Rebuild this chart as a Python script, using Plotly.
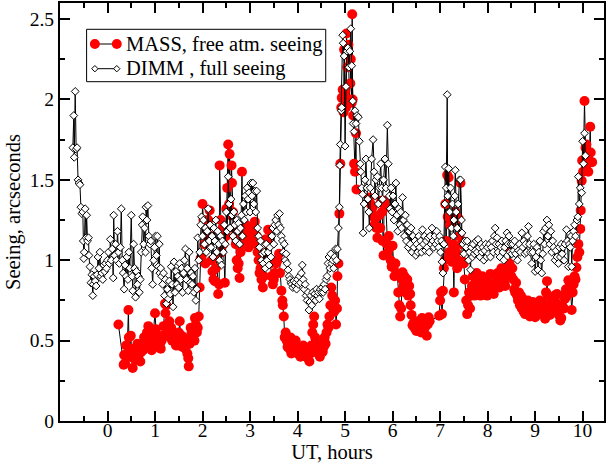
import plotly.graph_objects as go

# ---------------- DIMM (full seeing) ----------------
dimm_ut = [
    -0.73, -0.71, -0.70, -0.68, -0.66, -0.64, -0.62, -0.60, -0.58, -0.56,
    -0.54, -0.52, -0.51, -0.50, -0.49, -0.47, -0.45, -0.44, -0.42, -0.40,
    -0.39, -0.37, -0.35, -0.33, -0.31, -0.30, -0.28, -0.26, -0.24, -0.22,
    -0.20, -0.18, -0.16, -0.14, -0.12, -0.10, -0.08, -0.06, -0.04, -0.02,
    0.00, 0.02, 0.04, 0.06, 0.08, 0.10, 0.12, 0.13, 0.15, 0.17,
    0.19, 0.21, 0.23, 0.25, 0.27, 0.29, 0.31, 0.33, 0.35, 0.37,
    0.39, 0.41, 0.43, 0.45, 0.47, 0.50, 0.52, 0.53, 0.55, 0.57,
    0.59, 0.61, 0.63, 0.65, 0.67, 0.69, 0.71, 0.73, 0.74, 0.76,
    0.78, 0.80, 0.81, 0.83, 0.85, 0.87, 0.89, 0.91, 0.93, 0.95,
    0.97, 0.99, 1.01,
    1.03, 1.05, 1.07, 1.09, 1.10, 1.12, 1.14, 1.16, 1.18, 1.20,
    1.22, 1.24, 1.26, 1.28, 1.30, 1.32, 1.34, 1.36, 1.38, 1.40,
    1.42, 1.44, 1.46, 1.48, 1.50, 1.52, 1.54, 1.56, 1.58, 1.60,
    1.62, 1.64, 1.66, 1.68, 1.70, 1.72, 1.74, 1.76, 1.78, 1.80,
    1.82, 1.84, 1.86, 1.88, 1.90, 1.92, 1.94, 1.96, 1.98,
    2.00, 2.02, 2.04, 2.06, 2.08, 2.10, 2.12, 2.14, 2.16, 2.18,
    2.20, 2.22, 2.24, 2.26, 2.28, 2.30, 2.32, 2.34, 2.36, 2.38,
    2.40, 2.42, 2.44, 2.46, 2.48, 2.50, 2.52, 2.54, 2.56, 2.58,
    2.60, 2.62, 2.64, 2.66, 2.68, 2.70, 2.72, 2.74, 2.76, 2.78,
    2.80, 2.82, 2.84, 2.86, 2.88, 2.90, 2.92, 2.94, 2.96, 2.98,
    3.00, 3.02, 3.04, 3.06, 3.08, 3.10,
    3.12, 3.14, 3.16, 3.18, 3.20, 3.22, 3.24, 3.26, 3.28, 3.30,
    3.32, 3.34, 3.36, 3.38, 3.40, 3.42, 3.44, 3.46, 3.48, 3.50,
    3.52, 3.54, 3.56, 3.58, 3.60, 3.62, 3.64, 3.66, 3.68, 3.70,
    3.72, 3.74, 3.76, 3.78, 3.80, 3.82, 3.84, 3.86, 3.88, 3.90,
    3.92, 3.94, 3.96, 3.98, 4.00, 4.02, 4.04, 4.06, 4.08, 4.10,
    4.12, 4.14, 4.16, 4.18, 4.20, 4.22, 4.24, 4.26, 4.28, 4.30,
    4.32, 4.34, 4.36, 4.38, 4.40, 4.42, 4.44, 4.46, 4.48, 4.50,
    4.52, 4.54, 4.56, 4.58, 4.60, 4.62, 4.64, 4.66, 4.68, 4.70,
    4.72, 4.74, 4.76, 4.78, 4.80, 4.82, 4.84, 4.86,
    4.88, 4.89, 4.90, 4.92, 4.93, 4.95, 4.96, 4.98, 5.00, 5.02,
    5.04, 5.06, 5.08, 5.10, 5.12, 5.14, 5.16, 5.17, 5.19, 5.21,
    5.23, 5.25, 5.28, 5.30, 5.32, 5.33, 5.35, 5.37, 5.38, 5.40,
    5.42, 5.44, 5.46, 5.48, 5.50, 5.51, 5.53, 5.56, 5.59, 5.61,
    5.63, 5.65, 5.68, 5.70, 5.72, 5.75, 5.77, 5.79, 5.81, 5.84,
    5.86, 5.89, 5.91, 5.93, 5.95, 5.97, 5.99, 6.01, 6.03, 6.05,
    6.07, 6.09, 6.11, 6.13, 6.15, 6.17, 6.19, 6.21, 6.23, 6.25,
    6.27, 6.29, 6.31, 6.33, 6.35, 6.37, 6.39, 6.41,
    6.43, 6.45, 6.47, 6.49, 6.51, 6.53, 6.55, 6.57, 6.59, 6.61,
    6.63, 6.65, 6.67, 6.69, 6.71, 6.73, 6.75, 6.77, 6.79, 6.81,
    6.83, 6.85, 6.87, 6.89, 6.91, 6.93, 6.95, 6.97, 6.99, 7.01,
    7.03, 7.04, 7.06, 7.08,
    7.10, 7.11, 7.13, 7.15, 7.16, 7.18, 7.20, 7.22, 7.24, 7.26,
    7.28, 7.29, 7.31, 7.32, 7.34, 7.36, 7.38, 7.41, 7.43, 7.45,
    7.46, 7.48, 7.50, 7.52, 7.55, 7.57, 7.60, 7.62, 7.64, 7.66,
    7.68, 7.70, 7.72, 7.74, 7.76, 7.78, 7.80, 7.82, 7.84, 7.86,
    7.88, 7.90, 7.92, 7.94, 7.96, 7.98,
    8.00, 8.02, 8.04, 8.06, 8.08, 8.10, 8.12, 8.14, 8.16, 8.18,
    8.20, 8.22, 8.24, 8.26, 8.28, 8.30, 8.32, 8.34, 8.36, 8.38,
    8.41, 8.43, 8.45, 8.47, 8.49, 8.51, 8.53, 8.55, 8.57, 8.59,
    8.61, 8.63, 8.65, 8.67, 8.69, 8.72, 8.74, 8.76, 8.78, 8.80,
    8.82, 8.84, 8.86, 8.88, 8.90, 8.93, 8.95, 8.97,
    9.00, 9.02, 9.04, 9.06, 9.08, 9.10, 9.12, 9.14, 9.16, 9.18,
    9.20, 9.22, 9.25, 9.27, 9.29, 9.31, 9.33, 9.35, 9.37, 9.39,
    9.42, 9.44, 9.46, 9.49, 9.51, 9.53, 9.55, 9.57, 9.59, 9.61,
    9.63, 9.66, 9.68, 9.70, 9.72, 9.74, 9.76, 9.77, 9.79, 9.81,
    9.83, 9.85, 9.88, 9.90, 9.91, 9.93, 9.95, 9.98, 10.00, 10.02,
    10.04, 10.06,
]
dimm_seeing = [
    1.70, 1.90, 1.64, 2.05, 1.69, 1.70, 1.50, 1.48, 1.47, 1.33,
    1.29, 1.30, 1.12, 1.01, 1.05, 1.32, 1.14, 1.28, 1.12, 1.14,
    1.03, 0.96, 0.86, 0.91, 0.78, 0.85, 0.90, 0.87, 0.84, 0.91,
    1.02, 0.95, 1.05, 0.90, 0.92, 0.88, 0.97, 0.93, 0.98, 0.95,
    1.00, 1.05, 0.98, 1.13, 1.00, 1.07, 0.89, 1.28, 1.03, 1.10,
    1.00, 1.18, 1.05, 0.98, 1.08, 1.32, 1.00, 0.92, 0.82, 0.97,
    0.90, 1.02, 0.88, 1.05, 0.95, 1.28, 0.90, 0.81, 1.10, 0.95,
    0.77, 0.93, 0.85, 0.90, 0.80, 0.88, 1.05, 1.22, 1.27, 1.10,
    1.20, 1.05, 1.33, 1.25, 1.34, 1.15, 1.10, 1.12, 0.95, 0.85,
    1.00, 1.08, 1.15,
    1.03, 1.15, 0.96, 1.10, 0.92, 0.95, 0.90, 0.85, 0.92, 0.78,
    0.88, 0.73, 0.82, 0.76, 0.87, 0.79, 0.96, 0.85, 0.71, 0.99,
    0.80, 0.93, 0.85, 0.90, 0.83, 0.98, 0.88, 0.95, 0.80, 0.92,
    1.00, 1.07, 0.88, 0.95, 0.81, 1.05, 0.86, 0.92, 0.85, 0.90,
    0.80, 0.95, 0.75, 0.82, 1.14, 1.00, 1.05, 1.22, 1.27,
    1.15, 1.25, 1.10, 1.20, 1.05, 1.18, 1.32, 1.12, 1.22, 1.08,
    1.15, 1.02, 1.20, 1.12, 1.25, 1.05, 1.18, 1.10, 1.00, 1.15,
    0.97, 1.12, 1.05, 1.22, 1.10, 1.30, 1.18, 1.52, 1.35, 1.20,
    1.38, 1.28, 1.15, 1.30, 1.22, 1.12, 1.25, 1.18, 1.23, 1.10,
    1.20, 1.28, 1.15, 1.35, 1.25, 1.40, 1.30, 1.45, 1.38, 1.42,
    1.30, 1.48, 1.40, 1.48, 1.35, 1.43,
    1.30, 1.43, 1.20, 1.15, 1.08, 1.12, 1.00, 1.04, 0.98, 1.05,
    0.95, 1.10, 1.00, 1.05, 0.97, 1.08, 1.02, 1.15, 1.20, 1.10,
    1.22, 1.25, 1.18, 1.28, 1.22, 1.29, 1.20, 1.15, 1.12, 1.05,
    1.10, 1.00, 1.04, 0.98, 0.94, 0.90, 0.88, 0.86, 0.85, 0.83,
    0.87, 0.84, 0.86, 0.82, 0.88, 0.85, 0.90, 0.86, 0.92, 0.97,
    0.88, 0.82, 0.85, 0.78, 0.75, 0.80, 0.69, 0.74, 0.78, 0.72,
    0.80, 0.76, 0.79, 0.75, 0.82, 0.78, 0.80, 0.76, 0.82, 0.80,
    0.83, 0.80, 0.85, 0.82, 0.88, 0.90, 0.98, 1.02, 0.95, 1.04,
    0.98, 1.00, 0.95, 1.02, 1.07, 1.00, 1.07, 1.20,
    1.33, 1.59, 1.72, 1.93, 1.95, 2.40, 2.35, 2.27, 1.71, 2.08,
    2.30, 2.32, 2.20, 2.30, 2.44, 2.21, 1.99, 1.85, 1.80, 1.93,
    1.85, 1.90, 1.89, 1.74, 1.60, 1.55, 1.45, 1.41, 1.17, 1.35,
    1.50, 1.63, 1.45, 1.38, 1.30, 1.20, 1.45, 1.63, 1.75, 1.55,
    1.40, 1.50, 1.52, 1.35, 1.45, 1.60, 1.45, 1.38, 1.50, 1.63,
    1.45, 1.84, 1.60, 1.40, 1.32, 1.45, 1.30, 1.40, 1.25, 1.35,
    1.48, 1.28, 1.18, 1.32, 1.22, 1.30, 1.20, 1.39, 1.25, 1.15,
    1.28, 1.12, 1.22, 1.08, 1.18, 1.10, 1.20, 1.05,
    1.15, 1.08, 1.12, 1.03, 1.10, 1.05, 1.15, 1.08, 1.12, 1.05,
    1.19, 1.10, 1.15, 1.06, 1.12, 1.08, 1.14, 1.05, 1.15, 1.10,
    1.20, 1.12, 1.08, 1.15, 1.10, 1.18, 1.12, 1.08, 1.15, 1.05,
    1.12, 0.99, 0.92, 1.10,
    1.35, 1.58, 1.45, 2.03, 1.40, 1.57, 1.30, 1.45, 1.20, 1.35,
    1.15, 1.25, 1.40, 1.56, 1.30, 1.20, 1.35, 1.50, 1.50, 1.25,
    1.17, 1.10, 1.04, 1.12, 1.08, 1.12, 1.00, 1.05, 0.94, 1.08,
    1.02, 1.10, 1.04, 1.06, 1.12, 1.05, 1.13, 1.08, 1.02, 1.10,
    1.05, 1.08, 1.00, 1.06, 1.10, 1.02,
    1.08, 1.04, 1.10, 1.02, 1.08, 1.12, 1.05, 1.15, 1.20, 1.10,
    1.14, 1.05, 1.10, 1.02, 1.08, 1.12, 1.05, 1.00, 1.08, 1.12,
    1.17, 1.10, 1.15, 1.05, 1.10, 1.04, 1.10, 1.06, 1.12, 1.04,
    1.08, 1.00, 1.06, 1.10, 1.05, 1.17, 1.08, 1.12, 1.04, 1.10,
    1.05, 1.15, 1.21, 1.10, 1.05, 0.98, 1.05, 1.10,
    0.93, 1.02, 1.08, 0.94, 1.05, 1.12, 1.00, 0.92, 1.04, 1.18,
    1.10, 1.20, 1.25, 1.15, 1.22, 1.10, 1.18, 1.05, 1.12, 1.08,
    1.00, 1.06, 1.02, 0.98, 1.08, 1.02, 1.10, 1.04, 1.08, 1.00,
    1.10, 1.19, 1.12, 0.96, 1.10, 1.08, 1.15, 0.96, 1.12, 1.18,
    1.22, 1.15, 1.25, 1.27, 1.52, 1.35, 1.45, 1.42, 1.74, 1.60,
    1.79, 1.65,
]

# ---------------- MASS (free atmosphere seeing) ----------------
mass_ut = [
    0.23, 0.34, 0.35, 0.37, 0.39, 0.41, 0.44, 0.45, 0.47, 0.49,
    0.51, 0.53, 0.55, 0.57, 0.59, 0.61, 0.63, 0.65, 0.67, 0.69,
    0.71, 0.73, 0.75, 0.77, 0.79, 0.81, 0.83, 0.84, 0.86, 0.88,
    0.90, 0.93, 0.95, 0.97, 1.00,
    1.02, 1.04, 1.06, 1.08, 1.10, 1.12, 1.14, 1.16, 1.18, 1.21,
    1.22, 1.24, 1.26, 1.28, 1.30, 1.32, 1.34, 1.36, 1.38, 1.40,
    1.44, 1.46, 1.48, 1.50, 1.52, 1.54, 1.56, 1.58, 1.60, 1.62,
    1.64, 1.66, 1.68, 1.70, 1.71, 1.73, 1.75, 1.77, 1.79, 1.81,
    1.83, 1.84, 1.86, 1.88, 1.90, 1.92, 1.94, 1.96, 1.98,
    2.00, 2.02, 2.04, 2.06, 2.08, 2.10, 2.12, 2.15, 2.17, 2.19,
    2.21, 2.23, 2.26, 2.28, 2.30, 2.33, 2.35, 2.36, 2.38, 2.40,
    2.42, 2.44, 2.47, 2.49, 2.50, 2.52, 2.54, 2.56, 2.57, 2.59,
    2.61, 2.62, 2.64, 2.66, 2.68, 2.70, 2.72, 2.74, 2.76, 2.78,
    2.80, 2.83, 2.85, 2.87, 2.89, 2.91, 2.93, 2.95, 2.97, 2.99,
    3.01, 3.03, 3.05, 3.07, 3.10,
    3.12, 3.14, 3.16, 3.18, 3.20, 3.22, 3.24, 3.27, 3.29, 3.31,
    3.33, 3.35, 3.38, 3.40, 3.43, 3.45, 3.48, 3.50, 3.52, 3.55,
    3.58, 3.61, 3.63, 3.66, 3.68, 3.69, 3.71, 3.73, 3.75, 3.77,
    3.79, 3.81, 3.83, 3.85, 3.87, 3.89, 3.91, 3.93, 3.96, 3.98,
    4.00, 4.02, 4.04, 4.06, 4.08, 4.10, 4.12, 4.14, 4.16, 4.18,
    4.20, 4.22, 4.25, 4.27, 4.29, 4.31, 4.33, 4.35, 4.37, 4.39,
    4.41, 4.43, 4.45, 4.47, 4.49, 4.51, 4.53, 4.55, 4.57, 4.59,
    4.61, 4.63, 4.65, 4.67, 4.69, 4.71, 4.73, 4.75, 4.77, 4.79,
    4.81, 4.83, 4.84, 4.86, 4.88,
    4.90, 4.92, 4.93, 4.95, 4.97, 4.98, 5.00, 5.02, 5.03, 5.05,
    5.07, 5.09, 5.11, 5.12, 5.14, 5.15, 5.16, 5.17, 5.19, 5.21,
    5.23, 5.24,
    5.51, 5.54, 5.56, 5.58, 5.60, 5.62, 5.64, 5.66, 5.68, 5.70,
    5.72, 5.74, 5.76, 5.78, 5.79, 5.81, 5.82, 5.84, 5.86, 5.88,
    5.90, 5.92, 5.94, 5.96, 5.98, 6.00, 6.02, 6.04, 6.06, 6.08,
    6.10, 6.12, 6.14, 6.16, 6.18, 6.20, 6.21, 6.23, 6.25, 6.27,
    6.29, 6.31, 6.33, 6.35, 6.37, 6.38, 6.40, 6.42, 6.44, 6.46,
    6.48, 6.50, 6.52, 6.54, 6.56, 6.58, 6.60, 6.62, 6.64, 6.66,
    6.68, 6.70, 6.72, 6.74, 6.76, 6.78,
    6.98, 7.00, 7.02, 7.04, 7.06, 7.08, 7.10, 7.11, 7.13, 7.15,
    7.16, 7.18, 7.19, 7.21, 7.23, 7.25, 7.27, 7.29, 7.30, 7.32,
    7.34, 7.36, 7.38, 7.39, 7.41, 7.43, 7.45, 7.48,
    7.50, 7.52, 7.55, 7.57, 7.59, 7.61, 7.63, 7.65, 7.67, 7.69,
    7.71, 7.73, 7.75, 7.77, 7.79, 7.81, 7.83, 7.85, 7.87, 7.89,
    7.91, 7.93, 7.95, 7.97, 7.99, 8.01, 8.03, 8.06, 8.08, 8.10,
    8.13, 8.15, 8.17, 8.19, 8.21, 8.23, 8.25, 8.27, 8.29, 8.31,
    8.33, 8.35, 8.37, 8.39, 8.41, 8.44, 8.46, 8.48,
    8.50, 8.52, 8.54, 8.56, 8.58, 8.60, 8.62, 8.64, 8.66, 8.68,
    8.70, 8.72, 8.74, 8.76, 8.79, 8.81, 8.83, 8.85, 8.87, 8.89,
    8.91, 8.93, 8.95, 8.97, 9.00, 9.02, 9.04, 9.06, 9.08, 9.10,
    9.12, 9.14, 9.16, 9.18, 9.21, 9.23, 9.25, 9.27, 9.29, 9.31,
    9.33, 9.35, 9.37, 9.39, 9.41, 9.43, 9.46, 9.48,
    9.50, 9.53, 9.55, 9.57, 9.59, 9.61, 9.63, 9.65, 9.67, 9.70,
    9.72, 9.74, 9.77, 9.79, 9.81, 9.83, 9.85, 9.87, 9.89, 9.91,
    9.93, 9.95, 9.96, 9.98, 9.99, 10.01, 10.04, 10.06, 10.08, 10.10,
    10.12, 10.14, 10.16, 10.17, 10.20,
]
mass_seeing = [
    0.60, 0.35, 0.41, 0.36, 0.47, 0.40, 0.69, 0.52, 0.45, 0.53,
    0.42, 0.33, 0.39, 0.45, 0.38, 0.43, 0.48, 0.40, 0.46, 0.37,
    0.43, 0.47, 0.44, 0.52, 0.48, 0.50, 0.55, 0.48, 0.59, 0.54,
    0.47, 0.44, 0.50, 0.55, 0.67,
    0.57, 0.50, 0.46, 0.52, 0.48, 0.45, 0.50, 0.53, 0.59, 0.73,
    0.67, 0.72, 0.60, 0.55, 0.62, 0.52, 0.58, 0.50, 0.55, 0.53,
    0.47, 0.50, 0.47, 0.55, 0.62, 0.50, 0.53, 0.46, 0.52, 0.48,
    0.45, 0.50, 0.42, 0.39, 0.34, 0.48, 0.58, 0.55, 0.52, 0.57,
    0.50, 0.64, 0.60, 0.55, 0.58, 0.65, 0.83, 1.01, 1.02,
    1.35, 1.25, 1.10, 0.98, 1.20, 1.15, 1.25, 1.31, 1.15, 1.00,
    0.93, 0.88, 0.87, 0.95, 1.02, 0.79, 0.85, 1.59, 1.25, 1.05,
    1.20, 1.10, 0.86, 1.15, 1.32, 1.45, 1.72, 1.35, 1.66, 1.28,
    1.59, 1.48, 1.30, 1.20, 1.15, 1.10, 1.00, 0.95, 0.98, 0.89,
    1.05, 1.55, 1.20, 1.15, 1.10, 1.22, 1.18, 1.12, 1.08, 1.15,
    1.20, 1.18, 1.12, 1.20, 1.24,
    1.10, 1.15, 1.05, 1.00, 0.92, 0.95, 0.88, 0.83, 0.90, 1.00,
    1.13, 1.05, 1.19, 1.10, 0.98, 0.90, 0.85, 0.88, 0.92, 0.98,
    1.00, 1.04, 0.92, 0.81, 0.75, 0.72, 0.65, 0.52, 0.55, 0.50,
    0.46, 0.48, 0.45, 0.52, 0.42, 0.44, 0.48, 0.43, 0.50, 0.46,
    0.42, 0.46, 0.44, 0.40, 0.45, 0.42, 0.47, 0.41, 0.44, 0.40,
    0.43, 0.39, 0.37, 0.42, 0.47, 0.55, 0.60, 0.65, 0.52, 0.45,
    0.48, 0.42, 0.46, 0.40, 0.44, 0.48, 0.43, 0.46, 0.52, 0.48,
    0.55, 0.60, 0.58, 0.65, 0.72, 0.83, 0.78, 0.70, 0.68, 0.75,
    0.60, 0.70, 0.90, 0.98, 1.29,
    1.60, 1.95, 2.01, 2.06, 1.92, 2.31, 2.05, 1.95, 2.41, 2.20,
    2.34, 2.00, 2.10, 2.25, 1.98, 2.53, 2.00, 1.90, 1.60, 1.55,
    1.79, 1.44,
    1.39, 1.35, 1.30, 1.33, 1.27, 1.22, 1.26, 1.20, 1.14, 1.20,
    1.28, 1.20, 1.37, 1.30, 1.12, 1.03, 1.35, 1.37, 1.33, 1.10,
    1.05, 1.15, 1.08, 1.00, 0.96, 1.09, 0.955, 0.90, 0.98, 0.92,
    0.91, 0.80, 0.72, 0.65, 0.70, 0.88, 0.925, 0.84, 0.90, 0.80,
    0.86, 0.88, 0.78, 0.84, 0.79, 0.72, 0.66, 0.595, 0.61, 0.58,
    0.60, 0.56, 0.59, 0.62, 0.57, 0.60, 0.55, 0.64, 0.60, 0.62,
    0.58, 0.63, 0.53, 0.60, 0.645, 0.62,
    0.655, 0.75, 0.80, 0.665, 0.81, 0.95, 1.00, 1.35, 1.12, 1.53,
    1.27, 1.515, 1.05, 1.22, 1.00, 0.99, 1.10, 0.80, 1.08, 1.30,
    1.05, 0.95, 1.00, 1.26, 1.15, 1.48, 1.10, 0.99,
    0.98, 0.88, 0.75, 0.665, 0.72, 0.80, 0.70, 0.78, 0.84, 0.90,
    0.843, 0.78, 0.88, 0.92, 0.85, 0.80, 0.86, 0.78, 0.82, 0.90,
    0.85, 0.80, 0.88, 0.83, 0.78, 0.85, 0.80, 0.915, 0.85, 0.80,
    0.79, 0.85, 0.90, 0.86, 0.92, 0.88, 0.83, 0.90, 0.95, 0.88,
    0.92, 0.86, 0.84, 0.90, 0.96, 0.915, 0.98, 1.07,
    0.90, 0.95, 0.88, 0.82, 0.80, 0.86, 0.78, 0.75, 0.80, 0.72,
    0.78, 0.70, 0.76, 0.68, 0.665, 0.72, 0.68, 0.75, 0.70, 0.65,
    0.72, 0.68, 0.74, 0.67, 0.645, 0.70, 0.66, 0.72, 0.68, 0.75,
    0.70, 0.74, 0.68, 0.72, 0.636, 0.80, 0.87, 0.78, 0.72, 0.66,
    0.70, 0.76, 0.68, 0.72, 0.78, 0.74, 0.79, 0.70,
    0.66, 0.625, 0.64, 0.72, 0.78, 0.70, 0.76, 0.82, 0.78, 0.875,
    0.80, 0.85, 0.69, 0.80, 0.85, 0.90, 0.88, 0.955, 1.02, 1.10,
    1.05, 1.195, 1.31, 1.495, 1.62, 1.55, 1.99, 1.70, 1.72, 1.60,
    1.55, 1.62, 1.83, 1.67, 1.61,
]

series_names = ["MASS, free atm. seeing", "DIMM , full seeing"]
x_tick_vals = [0, 1, 2, 3, 4, 5, 6, 7, 8, 9, 10]
x_tick_text = ["0", "1", "2", "3", "4", "5", "6", "7", "8", "9", "10"]
y_tick_vals = [0, 0.5, 1, 1.5, 2, 2.5]
y_tick_text = ["0", "0.5", "1", "1.5", "2", "2.5"]

FONT = "Liberation Serif, Times New Roman, serif"
MASS_MARKER = dict(symbol="circle", color="#ff0000", size=10, line=dict(width=0))
DIMM_MARKER = dict(symbol="diamond", color="white", size=6, line=dict(color="black", width=1))

fig = go.Figure()
fig.add_trace(go.Scatter(
    x=mass_ut, y=mass_seeing, mode="lines+markers", name=series_names[0],
    line=dict(color="black", width=1), marker=MASS_MARKER, showlegend=False,
))
fig.add_trace(go.Scatter(
    x=dimm_ut, y=dimm_seeing, mode="lines+markers", name=series_names[1],
    line=dict(color="black", width=1), marker=DIMM_MARKER, showlegend=False,
))

# ---- legend box drawn in xmgrace style (symbol - line - symbol) ----
# plot area in pixels: x 60..606, y 3..421
PX0, PW, PY1, PH = 60.0, 546.0, 421.0, 418.0
def px(x):
    return (x - PX0) / PW
def py(y):
    return (PY1 - y) / PH

shapes = [
    dict(type="rect", xref="paper", yref="paper",
         x0=px(86.7), x1=px(326.7), y0=py(81.7), y1=py(29.3),
         line=dict(color="black", width=1), fillcolor="white", layer="above"),
]
rows_y = [44.0, 68.7]
sym_x = [95.0, 117.0]
for ry in rows_y:
    shapes.append(dict(type="line", xref="paper", yref="paper",
                       x0=px(sym_x[0]), x1=px(sym_x[1]), y0=py(ry), y1=py(ry),
                       line=dict(color="black", width=1), layer="above"))
# MASS legend circles
for sx in sym_x:
    shapes.append(dict(type="circle", xref="paper", yref="paper",
                       x0=px(sx - 5), x1=px(sx + 5), y0=py(rows_y[0] + 5), y1=py(rows_y[0] - 5),
                       line=dict(width=0), fillcolor="#ff0000", layer="above"))
# DIMM legend diamonds
for sx in sym_x:
    h = 3.2
    path = "M {a},{b} L {c},{d} L {e},{f} L {g},{h2} Z".format(
        a=px(sx - h), b=py(rows_y[1]),
        c=px(sx), d=py(rows_y[1] - h),
        e=px(sx + h), f=py(rows_y[1]),
        g=px(sx), h2=py(rows_y[1] + h))
    shapes.append(dict(type="path", xref="paper", yref="paper", path=path,
                       line=dict(color="black", width=1), fillcolor="white", layer="above"))

annotations = []
for ry, name in zip(rows_y, series_names):
    annotations.append(dict(
        xref="paper", yref="paper", x=px(124.0), y=py(ry), text=name,
        showarrow=False, xanchor="left", yanchor="middle",
        font=dict(family=FONT, size=20.5, color="black"),
    ))

axis_common = dict(
    showline=True, linecolor="black", linewidth=2, mirror="ticks",
    ticks="inside", ticklen=10, tickwidth=1.5, tickcolor="black",
    showgrid=False, zeroline=False,
    tickfont=dict(family=FONT, size=19.5, color="black"),
)

fig.update_layout(
    width=607, height=468,
    margin=dict(l=60, r=1, t=3, b=47),
    paper_bgcolor="white", plot_bgcolor="white",
    font=dict(family=FONT, size=19.5, color="black"),
    showlegend=False,
    shapes=shapes,
    annotations=annotations,
    xaxis=dict(
        range=[-1, 10.45],
        tickmode="array", tickvals=x_tick_vals, ticktext=x_tick_text,
        ticklabelstandoff=-9,
        minor=dict(ticks="inside", ticklen=5, tickwidth=1.5, tickcolor="black",
                   tickmode="linear", tick0=0.5, dtick=1),
        title=dict(text="UT, hours", font=dict(family=FONT, size=20.5), standoff=0),
        **axis_common,
    ),
    yaxis=dict(
        range=[0, 2.6],
        tickmode="array", tickvals=y_tick_vals, ticktext=y_tick_text,
        minor=dict(ticks="inside", ticklen=5, tickwidth=1.5, tickcolor="black",
                   tickmode="linear", tick0=0.25, dtick=0.5),
        title=dict(text="Seeing, arcseconds", font=dict(family=FONT, size=20.5), standoff=4),
        **axis_common,
    ),
)

fig.write_html(
    "out.html",
    config={"displayModeBar": False},
    post_script="document.body.style.margin='0';document.body.style.overflow='hidden';",
)
